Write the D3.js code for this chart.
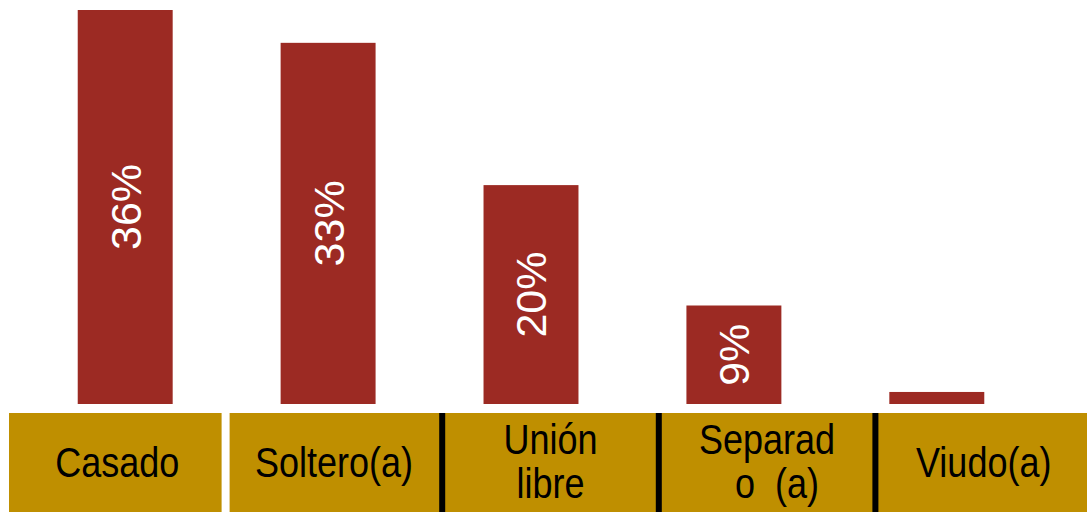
<!DOCTYPE html>
<html>
<head>
<meta charset="utf-8">
<script src="https://cdn.jsdelivr.net/npm/d3@7"></script>
<style>
  body { margin: 0; background: #fff; }
  svg { display: block; }
  text { font-family: "Liberation Sans", Arial, sans-serif; }
</style>
</head>
<body>
<script>
const categories = ["Casado", "Soltero(a)", "Unión libre", "Separado (a)", "Viudo(a)"];
const values = [36, 33, 20, 9, 1.1];
const valueLabels = ["36%", "33%", "20%", "9%", ""];
const tableLines = [["Casado"], ["Soltero(a)"], ["Unión", "libre"], ["Separad", "  o  (a)"], ["Viudo(a)"]];

const w = 1087, h = 512;
const baseY = 404;

const svg = d3.select("body").append("svg")
  .attr("width", w)
  .attr("height", h);

// bar scales
const x = d3.scaleBand()
  .domain(categories)
  .range([27, 1035])
  .paddingInner(0.532)
  .paddingOuter(0.25);

const y = d3.scaleLinear()
  .domain([0, 36])
  .range([baseY, 10]);

svg.selectAll("rect.bar")
  .data(categories)
  .enter()
  .append("rect")
  .attr("class", "bar")
  .attr("x", d => x(d))
  .attr("y", (d, i) => y(values[i]))
  .attr("width", x.bandwidth())
  .attr("height", (d, i) => baseY - y(values[i]))
  .attr("fill", "#9c2a23");

// rotated value labels
svg.selectAll("text.val")
  .data(categories)
  .enter()
  .append("text")
  .attr("class", "val")
  .attr("transform", (d, i) => {
    const cx = x(d) + x.bandwidth() / 2;
    const cy = (y(values[i]) + baseY) / 2;
    return `translate(${cx},${cy}) rotate(-90)`;
  })
  .attr("text-anchor", "middle")
  .attr("dy", "0.36em")
  .style("font-size", "43px")
  .style("fill", "#fff")
  .text((d, i) => valueLabels[i]);

// table band at the bottom
const tableTop = 413;
const cell = d3.scaleBand()
  .domain(categories)
  .range([9, 1092]);

svg.append("rect")
  .attr("x", 9)
  .attr("y", tableTop)
  .attr("width", w - 9)
  .attr("height", h - tableTop)
  .attr("fill", "#bf8f00");

// separators between cells
const sepColors = ["#fff", "#000", "#000", "#000"];
categories.slice(1).forEach((c, i) => {
  const sw = i === 0 ? 8 : 6;
  svg.append("rect")
    .attr("x", cell(c) - sw / 2)
    .attr("y", tableTop)
    .attr("width", sw)
    .attr("height", h - tableTop)
    .attr("fill", sepColors[i]);
});

// cell labels
const stretch = 1.16;
categories.forEach((c, i) => {
  const lines = tableLines[i];
  const cx = cell(c) + cell.bandwidth() / 2;
  const baselines = lines.length === 1 ? [477] : [454, 498];
  lines.forEach((line, j) => {
    svg.append("text")
      .attr("transform", `translate(${cx},${baselines[j]}) scale(1,${stretch})`)
      .attr("text-anchor", "middle")
      .style("font-size", "36px")
      .style("white-space", "pre")
      .style("fill", "#000")
      .text(line);
  });
});
</script>
</body>
</html>
